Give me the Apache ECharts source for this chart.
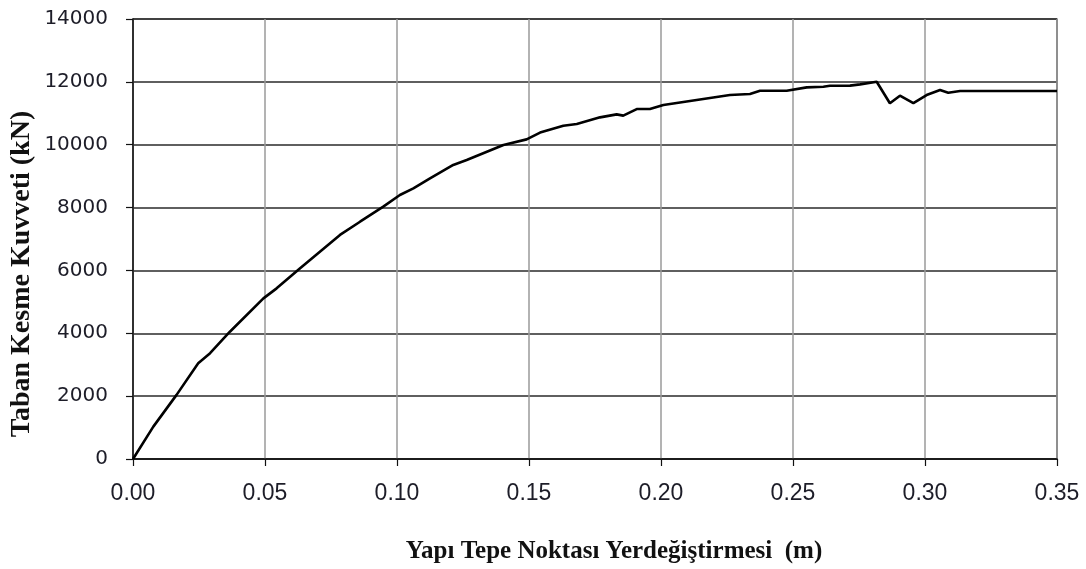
<!DOCTYPE html>
<html>
<head>
<meta charset="utf-8">
<script src="https://cdn.jsdelivr.net/npm/echarts@6/dist/echarts.min.js"></script>
<style>
  html, body { margin: 0; padding: 0; background: #fff; }
  #chart { width: 1086px; height: 569px; }
</style>
</head>
<body>
<div id="chart"></div>
<script>
// Pushover curve: roof displacement (m) vs base shear (kN)
const displacement = [
  0.0000, 0.0077, 0.0165, 0.0247, 0.0292, 0.0367, 0.0494, 0.0544, 0.0633,
  0.0784, 0.0860, 0.0948, 0.1011, 0.1062, 0.1125, 0.1213, 0.1264, 0.1403,
  0.1491, 0.1542, 0.1630, 0.1681, 0.1769, 0.1832, 0.1857, 0.1908, 0.1958,
  0.2009, 0.2135, 0.2261, 0.2337, 0.2375, 0.2476, 0.2552, 0.2615, 0.2640,
  0.2716, 0.2754, 0.2817, 0.2867, 0.2905, 0.2956, 0.3006, 0.3057, 0.3088,
  0.3133, 0.3500
];
const baseShear = [
  0, 1030, 2040, 3045, 3365, 4050, 5110, 5430, 6070,
  7130, 7550, 8030, 8400, 8610, 8930, 9355, 9515, 9990,
  10170, 10385, 10605, 10660, 10870, 10965, 10925, 11135, 11135,
  11265, 11425, 11580, 11615, 11715, 11715, 11825, 11845, 11875,
  11880, 11920, 12005, 11320, 11560, 11320, 11580, 11740, 11655,
  11710, 11710
];
const xTicks = { min: 0, max: 0.35, step: 0.05 };
const yTicks = { min: 0, max: 14000, step: 2000 };
const xTitle = 'Yapı Tepe Noktası Yerdeğiştirmesi  (m)';
const yTitle = 'Taban Kesme Kuvveti (kN)';

const chart = echarts.init(document.getElementById('chart'), null, { renderer: 'canvas' });
const labelColor = '#1d1d28';
const titleFamily = '"Liberation Serif", "Times New Roman", serif';

chart.setOption({
  animation: false,
  backgroundColor: '#fff',
  grid: {
    left: 133, right: 29, top: 19, bottom: 110,
    show: true, borderColor: '#111', borderWidth: 1.2, backgroundColor: 'transparent'
  },
  xAxis: {
    type: 'value',
    min: xTicks.min, max: xTicks.max, interval: xTicks.step,
    axisLine: { show: true, onZero: false, lineStyle: { color: '#111', width: 1.5 } },
    axisTick: { show: true, inside: false, length: 7, lineStyle: { color: '#111', width: 1.2 } },
    axisLabel: {
      margin: 23, formatter: v => v.toFixed(2),
      fontFamily: '"Liberation Sans", Arial, sans-serif', fontSize: 23, color: labelColor
    },
    splitLine: { show: true, lineStyle: { color: '#9a9a9a', width: 1.5 } }
  },
  yAxis: {
    type: 'value',
    min: yTicks.min, max: yTicks.max, interval: yTicks.step,
    axisLine: { show: true, lineStyle: { color: '#111', width: 1.5 } },
    axisTick: { show: true, inside: false, length: 7, lineStyle: { color: '#111', width: 1.2 } },
    axisLabel: {
      margin: 25, formatter: v => String(v),
      fontFamily: '"DejaVu Sans", sans-serif', fontSize: 20, color: labelColor
    },
    splitLine: { show: true, lineStyle: { color: '#2a2a2a', width: 1.5 } }
  },
  graphic: [
    {
      type: 'text', x: 614, y: 552,
      style: {
        text: xTitle, fontFamily: titleFamily, fontSize: 25, fontWeight: 'bold',
        fill: '#111', align: 'center', verticalAlign: 'middle'
      }
    },
    {
      type: 'text', x: 22, y: 274, rotation: Math.PI / 2,
      style: {
        text: yTitle, fontFamily: titleFamily, fontSize: 28, fontWeight: 'bold',
        fill: '#111', align: 'center', verticalAlign: 'middle'
      }
    }
  ],
  series: [{
    type: 'line',
    data: displacement.map((d, i) => [d, baseShear[i]]),
    showSymbol: false,
    smooth: false,
    lineStyle: { color: '#000', width: 2.6 },
    z: 5
  }]
});
</script>
</body>
</html>
